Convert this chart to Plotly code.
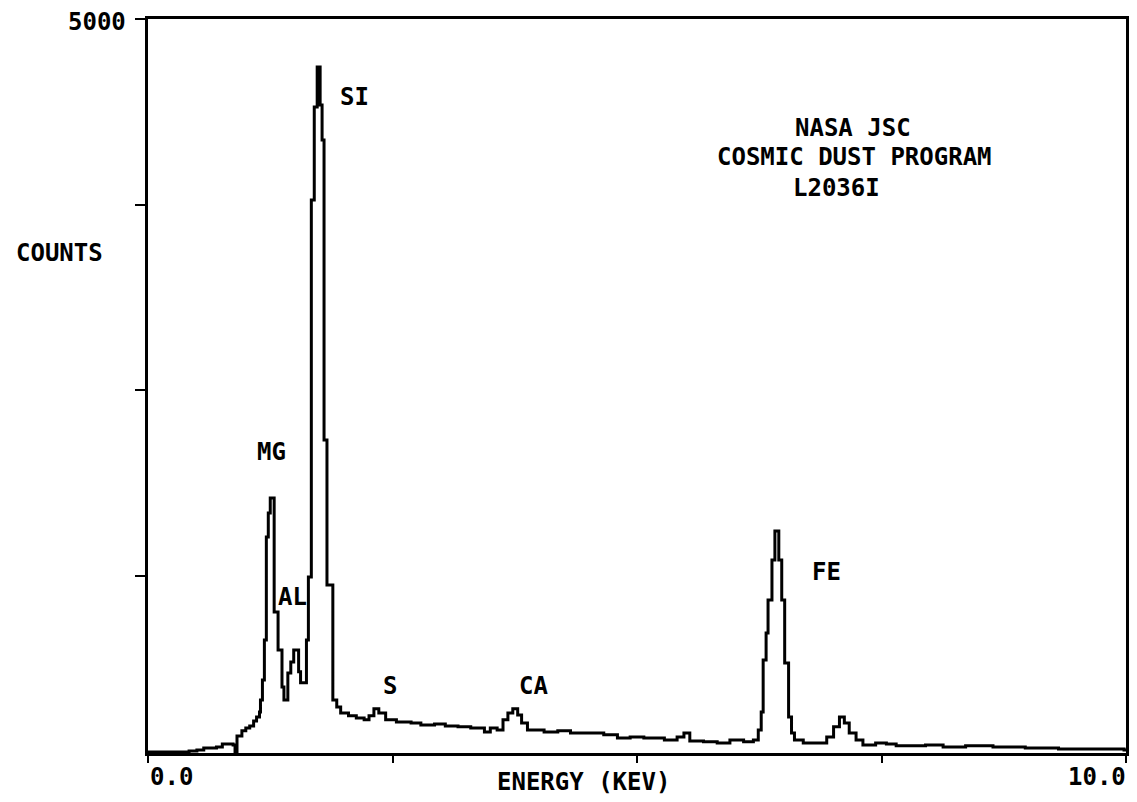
import plotly.graph_objects as go

# Energy (keV) and counts (step histogram)
energy_kev = [0.00, 0.42, 0.50, 0.57, 0.70, 0.76, 0.87, 0.89, 0.91, 0.96, 1.00, 1.04, 1.08, 1.11, 1.14,
              1.15, 1.17, 1.19, 1.21, 1.23, 1.25, 1.29, 1.33, 1.37, 1.39, 1.43, 1.46, 1.49, 1.54, 1.56,
              1.62, 1.64, 1.67, 1.70, 1.73, 1.76, 1.78, 1.80, 1.83, 1.89, 1.93, 1.97, 2.05, 2.13, 2.21,
              2.26, 2.31, 2.36, 2.43, 2.54, 2.69, 2.79, 2.93, 3.04, 3.17, 3.30, 3.44, 3.50, 3.57, 3.63,
              3.68, 3.73, 3.78, 3.82, 3.88, 4.05, 4.19, 4.32, 4.52, 4.66, 4.80, 4.93, 5.07, 5.28, 5.41,
              5.48, 5.54, 5.68, 5.82, 5.95, 6.09, 6.19, 6.24, 6.27, 6.29, 6.32, 6.34, 6.38, 6.41, 6.45,
              6.48, 6.51, 6.55, 6.58, 6.61, 6.70, 6.83, 6.94, 7.01, 7.07, 7.12, 7.17, 7.24, 7.31, 7.44,
              7.55, 7.65, 7.95, 8.13, 8.36, 8.64, 8.97, 9.31, 9.65, 9.98, 10.00]
counts = [67, 74, 81, 94, 101, 121, 114, 67, 175, 209, 229, 242, 276, 303, 336,
          417, 552, 821, 1514, 1676, 1776, 1009, 754, 505, 417, 599, 673, 754, 606, 532,
          821, 1245, 3782, 4407, 4677, 4421, 4185, 2167, 1191, 417, 370, 330, 310, 296, 283,
          310, 357, 330, 283, 269, 262, 249, 256, 242, 236, 229, 202, 229, 215, 283,
          330, 357, 316, 262, 215, 202, 209, 195, 195, 182, 161, 168, 161, 148, 168,
          195, 141, 135, 128, 148, 135, 148, 215, 336, 686, 868, 1090, 1359, 1554, 1359,
          1090, 666, 303, 195, 148, 128, 128, 168, 236, 303, 262, 195, 148, 114, 128,
          121, 108, 114, 101, 108, 101, 94, 87, 87, 81, 81]

x_ticks = [0, 2.5, 5.0, 7.5, 10.0]
y_ticks = [1250, 2500, 3750, 5000]
x_range = [0, 10]
y_range = [60, 5000]

peak_labels = ["SI", "MG", "AL", "S", "CA", "FE"]
title_lines = ["NASA JSC", "COSMIC DUST PROGRAM", "L2036I"]

FONT = "DejaVu Sans Mono"
FS = 24

L, R, T, B = 148, 1129, 19, 753


def px(x):
    return (x - L) / (R - L)


def py(y):
    return (B - y) / (B - T)


fig = go.Figure()
fig.add_trace(go.Scatter(x=energy_kev, y=counts, mode="lines",
                         line=dict(color="black", width=3, shape="hv"),
                         hoverinfo="skip", showlegend=False))

annos = []


def add(text, x, y, xanchor="center"):
    annos.append(dict(text=text, x=px(x), y=py(y), xref="paper", yref="paper",
                      xanchor=xanchor, yanchor="middle", showarrow=False,
                      font=dict(family=FONT, size=FS, color="black", weight="bold")))


peak_pos = [(355, 97), (272, 452), (293, 597), (391, 686), (535, 686), (829, 572)]
for t, (x, y) in zip(peak_labels, peak_pos):
    add(t, x, y)

title_pos = [(795, 128), (717, 157), (793, 188)]
for t, (x, y) in zip(title_lines, title_pos):
    add(t, x, y, "left")

add("COUNTS", 59, 253)
add("ENERGY (KEV)", 585, 782)
add("0.0", 148, 777, "left")
add("10.0", 1131, 777, "right")
add("5000", 128, 22, "right")

fig.update_layout(
    width=1137, height=802,
    margin=dict(l=L, r=1137 - R, t=T, b=802 - B, pad=0),
    paper_bgcolor="white", plot_bgcolor="white",
    annotations=annos,
    xaxis=dict(range=x_range, tickvals=x_ticks, showticklabels=False, ticks="outside",
               ticklen=7, tickwidth=2, tickcolor="black", showline=True, linecolor="black",
               linewidth=2.5, mirror=True, showgrid=False, zeroline=False),
    yaxis=dict(range=y_range, tickvals=y_ticks, showticklabels=False, ticks="outside",
               ticklen=10, tickwidth=2, tickcolor="black", showline=True, linecolor="black",
               linewidth=2.5, mirror=True, showgrid=False, zeroline=False),
)

fig.write_html("out.html", config={"displayModeBar": False},
               post_script="document.body.style.margin='0px';document.body.style.overflow='hidden';")
